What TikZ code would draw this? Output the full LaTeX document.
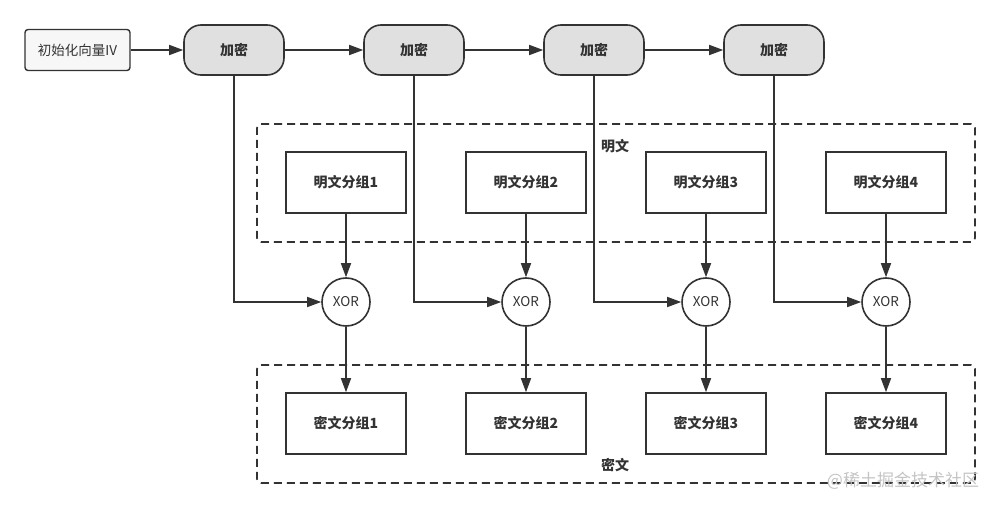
\documentclass[tikz,border=0pt]{standalone}
\usepackage{fontspec}
\setmainfont{Noto Sans CJK SC}
\usepackage{tikz}
\usetikzlibrary{arrows.meta, positioning}
\usepackage{xcolor}
\definecolor{Ink}{HTML}{333333}
\definecolor{LiteGray}{HTML}{E0E0E0}
\definecolor{PaleGray}{HTML}{F7F7F7}
\definecolor{MarkGray}{HTML}{C4C4C4}
\tikzset{%
  start_block/.style={%
    rectangle,%
    rounded corners=3pt,%
    draw=Ink,%
    fill=PaleGray,%
    line width=1.4pt,%
    minimum width=105pt,%
    minimum height=41pt,%
    text=Ink,%
    font={\fontsize{13.5}{16}\selectfont},%
  },
  enc_block/.style={%
    rectangle,%
    rounded corners=17pt,%
    draw=Ink,%
    fill=LiteGray,%
    line width=1.6pt,%
    minimum width=100pt,%
    minimum height=50pt,%
    text=Ink,%
    font={\fontsize{14}{16}\selectfont\bfseries},%
  },
  group_block/.style={%
    rectangle,%
    draw=Ink,%
    line width=1.6pt,%
    minimum width=120pt,%
    minimum height=61pt,%
    text=Ink,%
    font={\fontsize{14}{16}\selectfont\bfseries},%
  },
  xor_sum/.style={%
    circle,%
    draw=Ink,%
    fill=white,%
    line width=1.6pt,%
    minimum size=48pt,%
    inner sep=0pt,%
    text=Ink,%
    font={\fontsize{13.5}{16}\selectfont},%
  },
  area_box/.style={%
    rectangle,%
    rounded corners=4pt,%
    draw=Ink,%
    line width=1.6pt,%
    dash pattern=on 8pt off 5pt,%
    minimum width=718pt,%
    minimum height=118pt,%
  },
  area_annotate/.style={%
    text=Ink,%
    font={\fontsize{14}{16}\selectfont\bfseries},%
  },
  watermark/.style={%
    text=MarkGray,%
    font={\fontsize{17}{20}\selectfont},%
  },
  smooth_path/.style={%
    color=Ink,%
    line width=1.6pt,%
  },
  arrow/.style={-{Triangle[length=14pt, width=10pt]}},
}
\begin{document}
\begin{tikzpicture}[x=1pt, y=-1pt, on grid]
    \useasboundingbox (0,0) rectangle (999,508);

    \node [area_box] (PlainArea) at (616,183) {};
    \node [area_box] (CipherArea) at (616,424) {};
    \node [area_annotate] (PlainLabel) at (615,146) {明文};
    \node [area_annotate] (CipherLabel) at (615,465) {密文};

    \node [start_block] (InitVector) at (77.5,50) {初始化向量IV};
    \node [enc_block] (Encrypt1) at (234,50) {加密};
    \node [enc_block, right = 180pt of Encrypt1] (Encrypt2) {加密};
    \node [enc_block, right = 180pt of Encrypt2] (Encrypt3) {加密};
    \node [enc_block, right = 180pt of Encrypt3] (Encrypt4) {加密};

    \node [group_block] (Plain1) at (346,182.5) {明文分组1};
    \node [group_block, right = 180pt of Plain1] (Plain2) {明文分组2};
    \node [group_block, right = 180pt of Plain2] (Plain3) {明文分组3};
    \node [group_block, right = 180pt of Plain3] (Plain4) {明文分组4};

    \node [xor_sum, below = 119.5pt of Plain1] (Xor1) {XOR};
    \node [xor_sum, below = 119.5pt of Plain2] (Xor2) {XOR};
    \node [xor_sum, below = 119.5pt of Plain3] (Xor3) {XOR};
    \node [xor_sum, below = 119.5pt of Plain4] (Xor4) {XOR};

    \node [group_block, below = 121.5pt of Xor1] (Cipher1) {密文分组1};
    \node [group_block, below = 121.5pt of Xor2] (Cipher2) {密文分组2};
    \node [group_block, below = 121.5pt of Xor3] (Cipher3) {密文分组3};
    \node [group_block, below = 121.5pt of Xor4] (Cipher4) {密文分组4};

    \node [watermark] (Watermark) at (903,481) {@稀土掘金技术社区};

    \draw [arrow, smooth_path] (InitVector.east) -- (Encrypt1.west);
    \draw [arrow, smooth_path] (Encrypt1.east) -- (Encrypt2.west);
    \draw [arrow, smooth_path] (Encrypt2.east) -- (Encrypt3.west);
    \draw [arrow, smooth_path] (Encrypt3.east) -- (Encrypt4.west);

    \draw [arrow, smooth_path] (Encrypt1.south) |- (Xor1.west);
    \draw [arrow, smooth_path] (Encrypt2.south) |- (Xor2.west);
    \draw [arrow, smooth_path] (Encrypt3.south) |- (Xor3.west);
    \draw [arrow, smooth_path] (Encrypt4.south) |- (Xor4.west);

    \draw [arrow, smooth_path] (Plain1.south) -- (Xor1.north);
    \draw [arrow, smooth_path] (Plain2.south) -- (Xor2.north);
    \draw [arrow, smooth_path] (Plain3.south) -- (Xor3.north);
    \draw [arrow, smooth_path] (Plain4.south) -- (Xor4.north);

    \draw [arrow, smooth_path] (Xor1.south) -- (Cipher1.north);
    \draw [arrow, smooth_path] (Xor2.south) -- (Cipher2.north);
    \draw [arrow, smooth_path] (Xor3.south) -- (Cipher3.north);
    \draw [arrow, smooth_path] (Xor4.south) -- (Cipher4.north);
  \end{tikzpicture}
\end{document}
